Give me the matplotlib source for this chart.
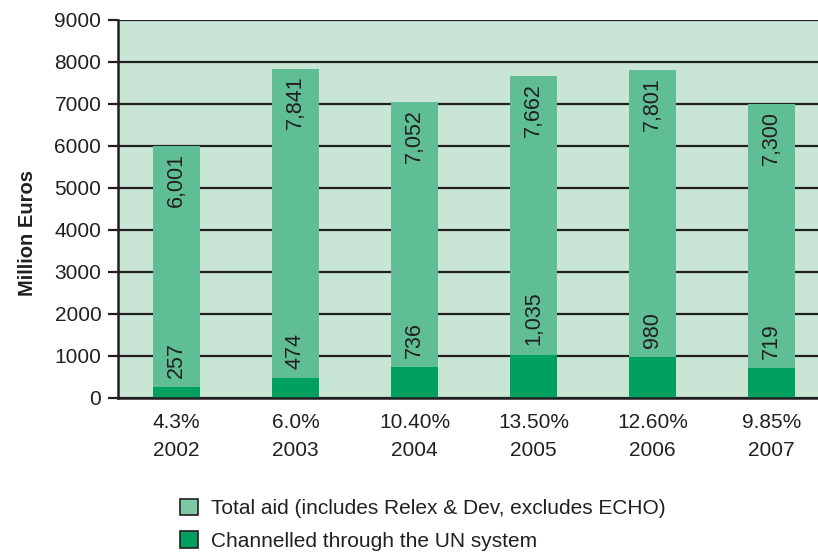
import numpy as np
import matplotlib.pyplot as plt
from matplotlib.patches import Patch

plt.rcParams['font.family'] = ['Liberation Sans', 'DejaVu Sans']

years = ['2002', '2003', '2004', '2005', '2006', '2007']
shares = ['4.3%', '6.0%', '10.40%', '13.50%', '12.60%', '9.85%']
# labels as printed on the bars
total_aid = [6001, 7841, 7052, 7662, 7801, 7300]
un_aid = [257, 474, 736, 1035, 980, 719]
# heights as drawn (the 2007 bar is drawn at about 7000 in the source)
total_height = [6001, 7841, 7052, 7662, 7801, 6990]

bg = '#c9e5d6'
c_total = '#5fbe96'
c_un = '#00a160'
dark = '#231f20'

fig = plt.figure(figsize=(8.18, 5.54), dpi=100)
ax = fig.add_axes([0.1443, 0.2816, 0.8557, 0.6823])
ax.set_facecolor(bg)

x = np.arange(len(years))
w = 0.40
ax.bar(x, total_height, w, color=c_total, zorder=3)
ax.bar(x, un_aid, w, color=c_un, zorder=4)

for xi, h, t, u in zip(x, total_height, total_aid, un_aid):
    ax.annotate(f'{t:,}', (xi, h), xytext=(0, -5), textcoords='offset points',
                rotation=90, ha='center', va='top', fontsize=15.5, color=dark, zorder=5)
    ax.annotate(f'{u:,}', (xi, u), xytext=(0, 6.5), textcoords='offset points',
                rotation=90, ha='center', va='bottom', fontsize=15.5, color=dark, zorder=5)

ax.set_ylim(0, 9000)
ax.set_xlim(-0.49, 5.39)
ax.set_yticks(np.arange(0, 9001, 1000))
ax.yaxis.grid(True, color=dark, linewidth=1.6, zorder=1)
ax.set_axisbelow(True)
ax.tick_params(axis='y', length=7, width=1.6, color=dark, labelsize=15,
               labelcolor=dark, pad=5)
ax.set_xticks(x)
ax.set_xticklabels([f'{s}\n{y}' for s, y in zip(shares, years)], fontsize=15,
                   color=dark, linespacing=1.55)
ax.tick_params(axis='x', length=0, pad=11)

for s in ['top', 'right']:
    ax.spines[s].set_visible(False)
for s in ['left', 'bottom']:
    ax.spines[s].set_color(dark)
    ax.spines[s].set_linewidth(1.8)
    ax.spines[s].set_zorder(6)

ax.set_ylabel('Million Euros', fontsize=14.5, fontweight='bold', color=dark)
ax.yaxis.set_label_coords(-0.116, 0.437)

handles = [Patch(facecolor='#7dc9a6', edgecolor=dark, linewidth=1.2),
           Patch(facecolor=c_un, edgecolor=dark, linewidth=1.2)]
fig.legend(handles, ['Total aid (includes Relex & Dev, excludes ECHO)',
                     'Channelled through the UN system'],
           loc='upper left', bbox_to_anchor=(0.22, 0.1), frameon=False,
           fontsize=15, handlelength=0.85, handleheight=0.85, handletextpad=0.65,
           labelspacing=0.62, borderaxespad=0, borderpad=0, labelcolor=dark)

fig.savefig('out.png', dpi=100)
